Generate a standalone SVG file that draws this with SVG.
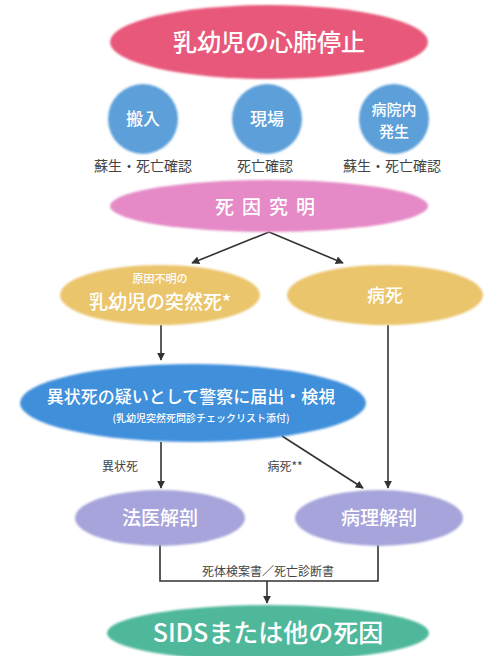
<svg xmlns="http://www.w3.org/2000/svg" width="485" height="656" viewBox="0 0 485 656">
<defs>
<marker id="ah" viewBox="0 0 10 10" refX="9" refY="5" markerWidth="5" markerHeight="5" orient="auto" markerUnits="strokeWidth">
<path d="M0,0 L10,5 L0,10 z" fill="#333"/>
</marker>
<filter id="soft" x="-5%" y="-10%" width="110%" height="120%"><feGaussianBlur stdDeviation="0.8"/></filter>
<style>
.t{font-family:"Noto Sans CJK JP","Noto Sans",sans-serif;fill:#fff;text-anchor:middle;font-weight:500}
.lbl{font-family:"Noto Sans CJK JP","Noto Sans",sans-serif;fill:#444;text-anchor:middle}
.ln{stroke:#333;stroke-width:1.6;fill:none}
.arr{marker-end:url(#ah)}
</style>
</defs>
<rect width="485" height="656" fill="#fff"/>

<g id="connectors">
<line class="ln arr" x1="269" y1="232" x2="192" y2="263"/>
<line class="ln arr" x1="269" y1="232" x2="343" y2="263"/>
<line class="ln arr" x1="161" y1="325" x2="161" y2="360"/>
<line class="ln arr" x1="388" y1="325" x2="388" y2="488"/>
<line class="ln arr" x1="282" y1="436" x2="363" y2="488"/>
<line class="ln arr" x1="161" y1="442" x2="161" y2="488"/>
<polyline class="ln" points="160,545 160,581 378,581 378,545"/>
<line class="ln arr" x1="267" y1="581" x2="267" y2="603"/>
<text class="lbl" x="120" y="471" font-size="12">異状死</text>
<text class="lbl" x="285" y="471" font-size="12">病死**</text>
<text class="lbl" x="268" y="576" font-size="12">死体検案書／死亡診断書</text>
</g>

<g id="n-arrest">
<ellipse cx="269" cy="42" rx="159" ry="37" fill="#e8587a" filter="url(#soft)"/>
<text class="t" x="269" y="51" font-size="24">乳幼児の心肺停止</text>
</g>

<g id="n-hannyu">
<circle cx="143" cy="119" r="35" fill="#5b9fd9" filter="url(#soft)"/>
<text class="t" x="143" y="125" font-size="17">搬入</text>
<text class="lbl" x="143" y="171" font-size="14">蘇生・死亡確認</text>
</g>
<g id="n-genba">
<circle cx="267" cy="119" r="35" fill="#5b9fd9" filter="url(#soft)"/>
<text class="t" x="267" y="125" font-size="17">現場</text>
<text class="lbl" x="265" y="171" font-size="14">死亡確認</text>
</g>
<g id="n-byoin">
<circle cx="394" cy="119" r="35" fill="#5b9fd9" filter="url(#soft)"/>
<text class="t" x="394" y="115" font-size="15">病院内</text>
<text class="t" x="394" y="137" font-size="15">発生</text>
<text class="lbl" x="392" y="171" font-size="14">蘇生・死亡確認</text>
</g>

<g id="n-shiin">
<ellipse cx="269" cy="206" rx="159" ry="26" fill="#e58ac6" filter="url(#soft)"/>
<text class="t" x="269" y="214" font-size="19" letter-spacing="8">死因究明</text>
</g>

<g id="n-fumei">
<ellipse cx="160" cy="295" rx="100" ry="30" fill="#eac56c" filter="url(#soft)"/>
<text class="t" x="160" y="283" font-size="11">原因不明の</text>
<text class="t" x="160" y="309" font-size="19">乳幼児の突然死*</text>
</g>
<g id="n-byoshi">
<ellipse cx="385" cy="295" rx="98" ry="30" fill="#eac56c" filter="url(#soft)"/>
<text class="t" x="385" y="302" font-size="18">病死</text>
</g>

<g id="n-keisatsu">
<ellipse cx="193" cy="403" rx="173" ry="39" fill="#3f8fdb" filter="url(#soft)"/>
<text class="t" x="191" y="403" font-size="17">異状死の疑いとして警察に届出・検視</text>
<text class="t" x="201" y="422" font-size="10">(乳幼児突然死問診チェックリスト添付)</text>
</g>

<g id="n-hoi">
<ellipse cx="160" cy="518" rx="85" ry="28" fill="#a6a4da" filter="url(#soft)"/>
<text class="t" x="160" y="525" font-size="19">法医解剖</text>
</g>
<g id="n-byori">
<ellipse cx="379" cy="518" rx="84" ry="28" fill="#a6a4da" filter="url(#soft)"/>
<text class="t" x="379" y="525" font-size="19">病理解剖</text>
</g>

<g id="n-sids">
<ellipse cx="268" cy="633" rx="161" ry="28" fill="#4fb89b" filter="url(#soft)"/>
<text class="t" x="268" y="642" font-size="25">SIDSまたは他の死因</text>
</g>
</svg>
